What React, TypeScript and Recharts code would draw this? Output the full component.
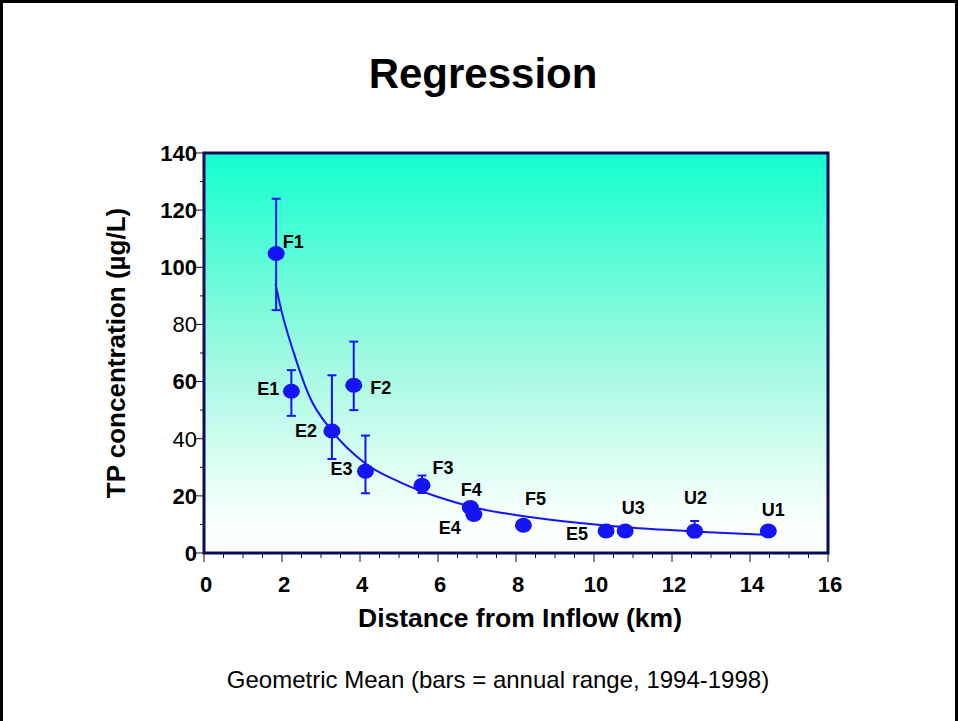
import {
  CartesianGrid,
  ComposedChart,
  ErrorBar,
  Line,
  ReferenceArea,
  Scatter,
  XAxis,
  YAxis,
} from "recharts";

const FONT = "'Liberation Sans', Arial, sans-serif";
const BLUE = "#1414f5";

// sampling sites
const SITES = ["F1", "E1", "E2", "F2", "E3", "F3", "F4", "E4", "F5", "E5", "U3", "U2", "U1"];
const DISTANCE_KM = [1.85, 2.24, 3.28, 3.84, 4.14, 5.59, 6.83, 6.92, 8.19, 10.31, 10.8, 12.58, 14.47];
const TP_MEAN = [104.8, 56.6, 42.7, 58.7, 28.6, 23.7, 15.9, 13.5, 9.7, 7.7, 7.7, 7.7, 7.7];
const TP_LOW = [85, 48, 32.9, 50, 20.9, 21, 15.9, 13.5, 9.7, 7.7, 7.7, 5.5, 7.7];
const TP_HIGH = [124, 64, 62.2, 74, 41.1, 27.1, 15.9, 13.5, 9.7, 7.7, 7.7, 11.2, 7.7];

// regression curve as traced on the picture
const FIT_KM = [1.83, 2.0, 2.28, 2.71, 3.27, 4.12, 5.02, 6.0, 7.07, 8.2, 9.64, 11.0, 12.8, 14.45];
const FIT_TP = [94.3, 84, 71, 54.6, 42.9, 31.5, 24.8, 19.6, 15.5, 12.9, 10.5, 8.8, 7.35, 6.3];

const X_TICKS = [
  0, 0.5, 1, 1.5, 2, 2.5, 3, 3.5, 4, 4.5, 5, 5.5, 6, 6.5, 7, 7.5, 8, 8.5, 9, 9.5, 10, 10.5, 11,
  11.5, 12, 12.5, 13, 13.5, 14, 14.5, 15, 15.5, 16,
];
const Y_TICKS = [0, 10, 20, 30, 40, 50, 60, 70, 80, 90, 100, 110, 120, 130, 140];
const Y_PLAIN = [40, 80]; // these two are not bold in the original

// label offset from the dot centre (px)
const LABEL_OFFSET: Record<string, [number, number]> = {
  F1: [17, -12],
  E1: [-23, -3],
  F2: [27, 2],
  E2: [-26, 0],
  E3: [-24, -3],
  F3: [21, -18],
  F4: [1, -18],
  E4: [-24, 13],
  F5: [12, -27],
  E5: [-29, 3],
  U3: [8, -23],
  U2: [1, -33],
  U1: [5, -21],
};

const points = SITES.map((site, i) => ({
  site,
  x: DISTANCE_KM[i],
  y: TP_MEAN[i],
  err: [TP_MEAN[i] - TP_LOW[i], TP_HIGH[i] - TP_MEAN[i]],
}));

const fit = FIT_KM.map((x, i) => ({ x, y: FIT_TP[i] }));

function XTick(props: any) {
  const { x, y, payload } = props;
  const v = payload.value as number;
  const major = v % 2 === 0;
  return (
    <g>
      <line x1={x} x2={x} y1={y} y2={y + (major ? 9 : 5)} stroke="#111" strokeWidth={1} />
      {major && (
        <text x={x + 2} y={y + 39} textAnchor="middle" fontFamily={FONT} fontSize={22} fontWeight="bold" fill="#000">
          {v}
        </text>
      )}
    </g>
  );
}

function YTick(props: any) {
  const { x, y, payload } = props;
  const v = payload.value as number;
  const major = v % 20 === 0;
  return (
    <g>
      <line x1={x - (major ? 8 : 4)} x2={x} y1={y} y2={y} stroke="#111" strokeWidth={1} />
      {major && (
        <text
          x={x - 7}
          y={y}
          dy="0.36em"
          textAnchor="end"
          fontFamily={FONT}
          fontSize={22}
          fontWeight={Y_PLAIN.includes(v) ? "normal" : "bold"}
          fill="#000"
        >
          {v}
        </text>
      )}
    </g>
  );
}

function SiteDot(props: any) {
  const { cx, cy, payload } = props;
  const [dx, dy] = LABEL_OFFSET[payload.site] ?? [10, -12];
  return (
    <g>
      <ellipse cx={cx} cy={cy} rx={8.5} ry={7.5} fill={BLUE} />
      <text
        x={cx + dx}
        y={cy + dy}
        dy="0.36em"
        textAnchor="middle"
        fontFamily={FONT}
        fontSize={18}
        fontWeight="bold"
        fill="#000"
      >
        {payload.site}
      </text>
    </g>
  );
}

export default function App() {
  return (
    <div
      style={{
        position: "absolute",
        left: 0,
        top: 0,
        width: 958,
        height: 721,
        overflow: "hidden",
        background: "#fff",
        fontFamily: FONT,
      }}
    >
      <div
        style={{
          position: "absolute",
          left: 0,
          top: 0,
          width: 958,
          height: 760,
          boxSizing: "border-box",
          border: "3px solid #000",
        }}
      />
      <div style={{ position: "absolute", left: 0, top: 0 }}>
        <ComposedChart width={958} height={721} margin={{ top: 153, right: 130, bottom: 128, left: 104 }}>
          <defs>
            <linearGradient id="plotBg" x1="0" y1="0" x2="0" y2="1">
              <stop offset="0%" stopColor="#12ffcf" />
              <stop offset="50%" stopColor="#9cf9df" />
              <stop offset="88%" stopColor="#f3fffb" />
              <stop offset="100%" stopColor="#ffffff" />
            </linearGradient>
          </defs>
          <CartesianGrid horizontal={false} vertical={false} fill="url(#plotBg)" fillOpacity={1} />
          <XAxis
            type="number"
            dataKey="x"
            domain={[0, 16]}
            ticks={X_TICKS}
            interval={0}
            tick={<XTick />}
            tickLine={false}
            axisLine={false}
            tickSize={0}
            tickMargin={0}
            height={40}
            allowDataOverflow
          />
          <YAxis
            type="number"
            dataKey="y"
            domain={[0, 140]}
            ticks={Y_TICKS}
            interval={0}
            tick={<YTick />}
            tickLine={false}
            axisLine={false}
            tickSize={0}
            tickMargin={0}
            width={100}
            allowDataOverflow
          />
          <Line
            data={fit}
            dataKey="y"
            type="monotone"
            stroke={BLUE}
            strokeWidth={2}
            dot={false}
            activeDot={false}
            isAnimationActive={false}
          />
          <Scatter data={points} dataKey="y" fill={BLUE} shape={<SiteDot />} isAnimationActive={false}>
            <ErrorBar dataKey="err" direction="y" width={4.5} stroke={BLUE} strokeWidth={2} isAnimationActive={false} />
          </Scatter>
          <ReferenceArea
            x1={0}
            x2={16}
            y1={0}
            y2={140}
            fill="none"
            stroke="#0a0a5a"
            strokeWidth={3}
            ifOverflow="visible"
          />
        </ComposedChart>
      </div>
      <svg width={958} height={721} style={{ position: "absolute", left: 0, top: 0, pointerEvents: "none" }}>
        <text x={483} y={88} textAnchor="middle" fontFamily={FONT} fontSize={42} fontWeight="bold" fill="#000">
          Regression
        </text>
        <text
          x={125}
          y={353}
          transform="rotate(-90 125 353)"
          textAnchor="middle"
          fontFamily={FONT}
          fontSize={26}
          fontWeight="bold"
          fill="#000"
        >
          TP concentration (µg/L)
        </text>
        <text x={520} y={627} textAnchor="middle" fontFamily={FONT} fontSize={26.5} fontWeight="bold" fill="#000">
          Distance from Inflow (km)
        </text>
        <text x={498} y={688} textAnchor="middle" fontFamily={FONT} fontSize={24} fill="#000">
          Geometric Mean (bars = annual range, 1994-1998)
        </text>
      </svg>
    </div>
  );
}
